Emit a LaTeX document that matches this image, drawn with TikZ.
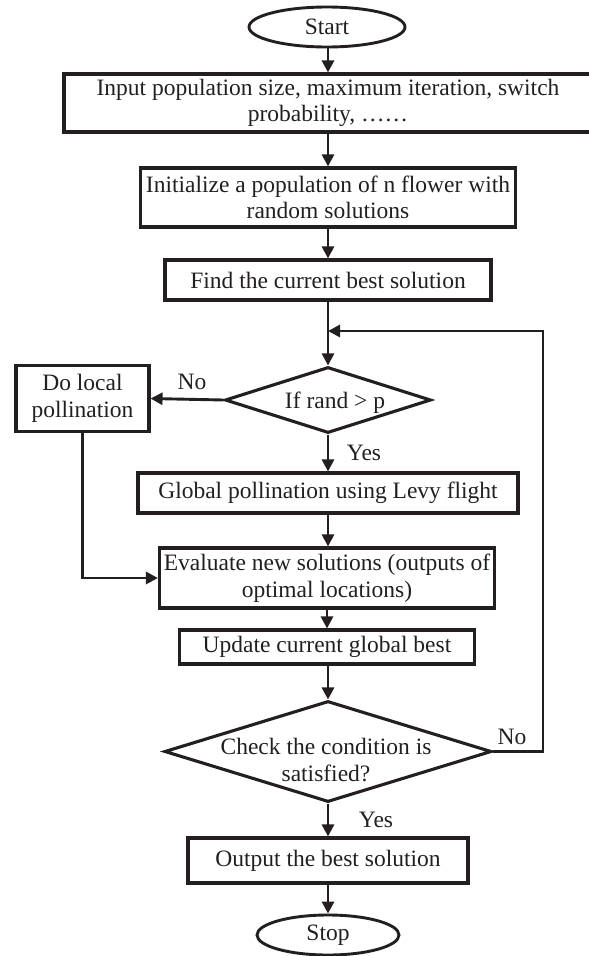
\documentclass[tikz,border=0pt]{standalone}
\usepackage{fontspec}
\setmainfont{Liberation Serif}
\usetikzlibrary{shapes.geometric,arrows.meta}
\definecolor{ink}{HTML}{231F20}
\begin{document}
\begin{tikzpicture}[x=1pt,y=-1pt,
  every node/.style={font=\fontsize{23.5}{26.5}\selectfont, text=ink, inner sep=0pt, align=center},
  box/.style={draw=ink, line width=3.1pt},
  term/.style={draw=ink, line width=2.9pt, ellipse},
  dec/.style={draw=ink, line width=3.1pt, diamond},
  conn/.style={draw=ink, line width=2.9pt, -{Triangle[length=12pt,width=12pt]}}
]
\useasboundingbox (0,0) rectangle (589,956);
\node[term, minimum width=156pt, minimum height=40pt] (start) at (327,27) {Start};
\node[box, minimum width=528pt, minimum height=58pt] (input) at (328,103) {Input population size, maximum iteration, switch\\probability, ……};
\node[box, minimum width=375pt, minimum height=59pt] (init) at (328,197.5) {Initialize a population of n flower with\\random solutions};
\node[box, minimum width=326pt, minimum height=40pt] (find) at (328,280) {Find the current best solution};
\node[dec, minimum width=206pt, minimum height=66pt] (d1) at (328,400) {};
\node (d1text) at (335,403) {If rand > p};
\node[box, minimum width=133pt, minimum height=66pt] (local) at (82.5,398.5) {Do local\\pollination};
\node[box, minimum width=380pt, minimum height=40pt] (global) at (328,493) {Global pollination using Levy flight};
\node[box, minimum width=335pt, minimum height=60pt] (eval) at (327,578) {Evaluate new solutions (outputs of\\optimal locations)};
\node[box, minimum width=295pt, minimum height=34pt] (update) at (327,647) {Update current global best};
\node[dec, minimum width=327pt, minimum height=101pt] (d2) at (328,751.5) {};
\node (d2text) at (326,760) {Check the condition is\\satisfied?};
\node[box, minimum width=280pt, minimum height=45pt] (output) at (328,860.5) {Output the best solution};
\node[term, minimum width=142pt, minimum height=40pt] (stop) at (328,935) {Stop};
\coordinate (loopin) at (328,331);
\coordinate (loopright) at (543,751.5);
\draw[conn] (start.south -| input.north) -- (input.north);
\draw[conn] (input.south) -- (init.north);
\draw[conn] (init.south) -- (find.north);
\draw[conn] (find.south) -- (d1.north);
\draw[conn] (d1.west) -- (local.east);
\draw[conn] (d1.south) -- (global.north);
\draw[conn] (global.south) -- (eval.north -| global.south);
\draw[conn] (eval.south -| update.north) -- (update.north);
\draw[conn] (update.south -| d2.north) -- (d2.north);
\draw[conn] (d2.south) -- (output.north);
\draw[conn] (output.south) -- (stop.north);
\draw[conn] (local.south) |- (eval.west);
\draw[conn] (d2.east) -- (loopright) |- (loopin);
\node (no1) at (192,382) {No};
\node (yes1) at (364,453) {Yes};
\node (no2) at (512,737) {No};
\node (yes2) at (376,820) {Yes};
\end{tikzpicture}
\end{document}
